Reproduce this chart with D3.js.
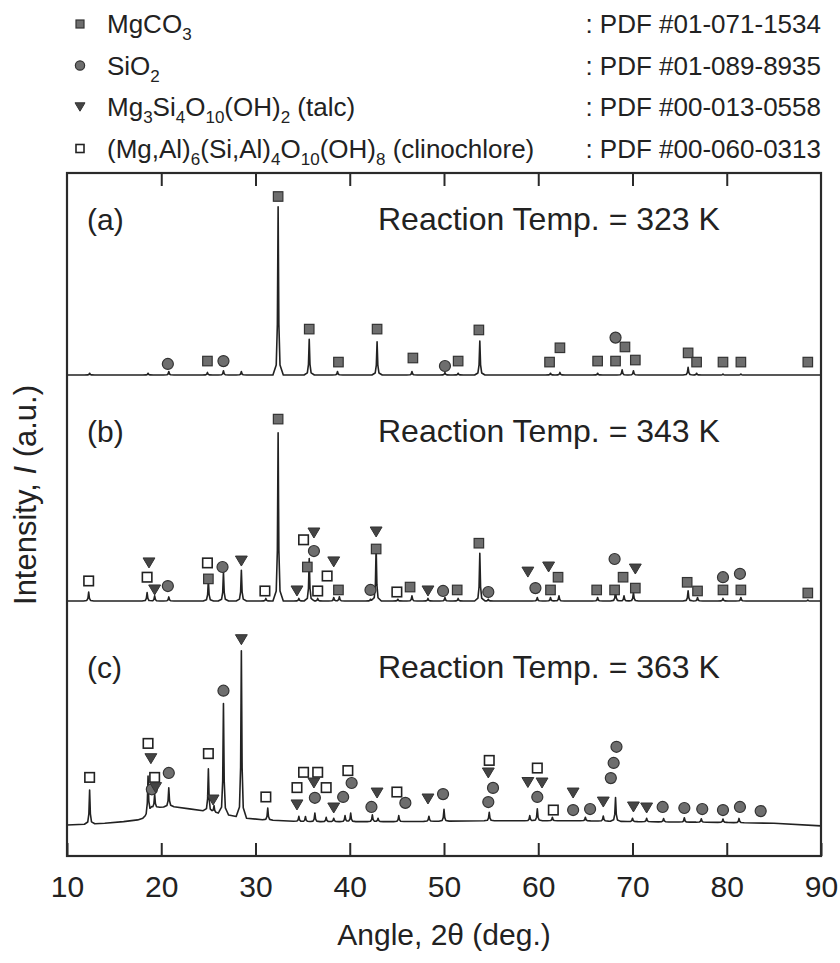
<!DOCTYPE html>
<html>
<head>
<meta charset="utf-8">
<script src="https://cdn.jsdelivr.net/npm/d3@7"></script>
<style>
  body { margin: 0; background: #fff; }
  svg { display: block; font-family: 'Liberation Sans', Arial, sans-serif; }
</style>
</head>
<body>
<script>
// ---- data ----
const angleTicks = [10, 20, 30, 40, 50, 60, 70, 80, 90]
const panelLabels = ['(a)', '(b)', '(c)']
const reactionTemps = ['323 K', '343 K', '363 K']

// legend: m = MgCO3, s = SiO2, t = talc, c = clinochlore
const phaseKeys = ['m', 's', 't', 'c']
const phaseNames = [
  [['MgCO'], ['3', 1]],
  [['SiO'], ['2', 1]],
  [['Mg'], ['3', 1], ['Si'], ['4', 1], ['O'], ['10', 1], ['(OH)'], ['2', 1], [' (talc)']],
  [['(Mg,Al)'], ['6', 1], ['(Si,Al)'], ['4', 1], ['O'], ['10', 1], ['(OH)'], ['8', 1], [' (clinochlore)']]
]
const pdfCodes = ['01-071-1534', '01-089-8935', '00-013-0558', '00-060-0313']

// background knots [angle, intensity]
const backgroundA = [[10, 0], [90, 0]]
const backgroundB = [[10, 0], [90, 0]]
const backgroundC = [[10, 0], [14, 1], [16, 2], [17.5, 3], [18.3, 4.5], [19, 10], [21, 11], [23, 9.5],
  [25, 8], [27, 6], [29, 4], [31, 3], [35, 2], [45, 2], [55, 2.5], [65, 2.5], [70, 2], [80, 1.5], [85, 1], [90, -0.5]]

// peaks [angle, height above background]
const peaksA = [[12.4, 1], [18.6, 1], [20.8, 2], [24.9, 1.5], [26.6, 2.5], [28.5, 2], [32.4, 99],
  [35.7, 21], [38.7, 2], [42.9, 19.5], [46.6, 2], [50.1, 1.5], [51.5, 1], [53.8, 20], [61.3, 1],
  [62.3, 1.5], [66.3, 1], [68.9, 3], [70.1, 2.5], [75.9, 4.5], [76.8, 1], [79.6, 0.5], [81.5, 0.5]]
const peaksB = [[12.3, 5.3], [18.5, 5], [19.3, 3], [20.8, 2.4], [25.0, 12.4], [26.6, 17], [28.5, 18],
  [31.1, 1.5], [32.4, 99], [34.6, 1.5], [35.7, 25], [36.6, 1.5], [38.3, 2], [38.9, 2.5], [42.2, 1],
  [42.8, 32], [45.1, 1], [46.6, 3], [48.3, 1.5], [50.1, 2], [51.5, 1.5], [53.8, 28], [54.7, 1],
  [59.9, 2], [61.3, 2], [62.2, 3], [66.3, 2], [68.2, 6], [69.1, 3], [70.1, 5], [75.9, 6], [76.9, 2],
  [79.6, 1.5], [81.5, 2], [88.6, 0.5]]
const peaksC = [[12.4, 20], [18.6, 22], [19.3, 8], [20.8, 11], [25.0, 25], [25.6, 4], [26.6, 65],
  [28.5, 98], [31.3, 7], [34.6, 3], [35.3, 3], [36.3, 5], [37.5, 2.5], [38.3, 2], [39.5, 3.5],
  [40.1, 5], [42.4, 4], [43.0, 2], [45.2, 3.5], [48.4, 3], [50.0, 7], [54.8, 5], [59.1, 3],
  [59.9, 7], [61.5, 2], [65.0, 2], [66.9, 3], [68.2, 14], [70.0, 2], [71.5, 2], [73.3, 2],
  [75.5, 2.5], [77.3, 2], [79.6, 2], [81.3, 2.5]]

// phase markers [phase, angle, level]
const markersA = [['m', 32.4, 105], ['m', 35.7, 27], ['m', 38.8, 7.6], ['m', 42.9, 27], ['m', 46.7, 10],
  ['s', 20.7, 6.5], ['m', 24.9, 8.2], ['s', 26.6, 8.2], ['s', 50.1, 5.3], ['m', 51.5, 8.2],
  ['m', 53.7, 26.5], ['m', 61.2, 7.6], ['m', 62.3, 16], ['m', 66.3, 8.2], ['s', 68.2, 22],
  ['m', 68.2, 8.2], ['m', 69.2, 16.5], ['m', 70.3, 8.8], ['m', 75.9, 13], ['m', 76.8, 7.6],
  ['m', 79.6, 7.6], ['m', 81.5, 7.6], ['m', 88.6, 7.6]]
const markersB = [['m', 32.4, 107], ['c', 12.3, 11.8], ['c', 18.5, 14], ['t', 18.7, 22.4], ['t', 19.3, 6.5],
  ['s', 20.7, 8.8], ['c', 24.9, 22.4], ['m', 25.0, 13], ['s', 26.5, 20], ['t', 28.5, 23.5],
  ['c', 31.0, 5.9], ['t', 34.4, 5.9], ['c', 35.1, 36], ['t', 36.2, 40], ['s', 36.2, 29.4],
  ['m', 35.5, 20], ['c', 36.6, 5.9], ['c', 37.6, 14.7], ['t', 38.3, 23], ['m', 38.8, 6.5],
  ['t', 42.8, 40.6], ['m', 42.8, 30.6], ['s', 42.2, 6.5], ['c', 45.0, 5.3], ['m', 46.4, 8.2],
  ['t', 48.3, 5.9], ['s', 49.9, 5.9], ['m', 51.4, 6.5], ['m', 53.7, 34], ['s', 54.7, 5.3],
  ['t', 58.9, 17], ['s', 59.7, 7.6], ['t', 61.1, 20], ['m', 62.1, 14], ['m', 61.3, 6.5],
  ['m', 66.2, 6.5], ['s', 68.1, 24.7], ['m', 68.1, 6.5], ['m', 69.0, 14], ['t', 70.3, 18.8],
  ['m', 70.3, 7.6], ['m', 75.8, 11], ['m', 76.9, 5.9], ['s', 79.6, 14], ['m', 79.6, 6.5],
  ['s', 81.4, 16], ['m', 81.5, 6.5], ['m', 88.6, 4.7]]
const markersC = [['c', 12.4, 28], ['c', 18.6, 48], ['t', 18.9, 39], ['c', 19.3, 28], ['s', 19.0, 21],
  ['t', 19.4, 22], ['s', 20.8, 30.6], ['c', 25.0, 42], ['t', 25.5, 14.7], ['s', 26.6, 79],
  ['t', 28.5, 109], ['c', 31.1, 16.5], ['c', 34.4, 22], ['t', 34.4, 11.8], ['c', 35.1, 31],
  ['c', 36.6, 31], ['t', 36.2, 24.7], ['s', 36.3, 16], ['c', 37.5, 22], ['t', 38.3, 10],
  ['s', 39.3, 16.5], ['s', 40.2, 24.7], ['c', 39.8, 32], ['s', 42.3, 10.6], ['t', 42.9, 18.8],
  ['c', 45.0, 19.4], ['s', 45.9, 13], ['t', 48.3, 15.3], ['s', 49.9, 18.2], ['c', 54.8, 38],
  ['t', 54.7, 30.6], ['s', 55.2, 21.8], ['s', 54.7, 13.5], ['t', 58.9, 25], ['t', 60.4, 24.7],
  ['c', 59.9, 33.5], ['s', 59.9, 16.5], ['c', 61.6, 8.8], ['t', 63.7, 18.8], ['s', 63.7, 8.8],
  ['s', 65.5, 9.4], ['t', 66.9, 13.5], ['s', 67.7, 27.6], ['s', 68.0, 36.5], ['s', 68.3, 46],
  ['t', 70.1, 10.6], ['t', 71.5, 10], ['s', 73.2, 10.6], ['s', 75.5, 10], ['s', 77.4, 9.4],
  ['s', 79.6, 8.8], ['s', 81.4, 10.6], ['s', 83.6, 8.2]]

// ---- layout ----
const W = 840, H = 963
const frame = { left: 67, right: 821, top: 173, bottom: 856 }
const baselines = [375, 601, 825]
const ink = '#222'

const svg = d3.select('body').append('svg').attr('width', W).attr('height', H)

const x = d3.scaleLinear().domain([10, 90]).range([frame.left, frame.right])

function drawMarker(g, key, cx, cy, s) {
  if (key === 'm') {
    g.append('rect').attr('x', cx - s / 2).attr('y', cy - s / 2).attr('width', s).attr('height', s)
      .attr('fill', '#6e6e6e').attr('stroke', '#333').attr('stroke-width', 1.2)
  } else if (key === 's') {
    g.append('circle').attr('cx', cx).attr('cy', cy).attr('r', s * 0.58)
      .attr('fill', '#6e6e6e').attr('stroke', '#333').attr('stroke-width', 1.2)
  } else if (key === 't') {
    const w = s * 1.25, h = s * 1.05
    g.append('path').attr('d', `M${cx - w / 2},${cy - h / 2}L${cx + w / 2},${cy - h / 2}L${cx},${cy + h / 2}Z`)
      .attr('fill', '#444').attr('stroke', '#333').attr('stroke-width', 1)
  } else {
    g.append('rect').attr('x', cx - s / 2).attr('y', cy - s / 2).attr('width', s).attr('height', s)
      .attr('fill', '#fff').attr('stroke', ink).attr('stroke-width', 1.6)
  }
}

// ---- legend ----
const legend = svg.append('g')
phaseKeys.forEach((key, i) => {
  const cy = 24 + i * 41.5
  drawMarker(legend, key, 80, cy, 8)
  const t = legend.append('text').attr('x', 107).attr('y', cy + 9)
    .attr('font-size', 26).attr('fill', ink)
  let sub = false
  phaseNames[i].forEach(([str, isSub]) => {
    const ts = t.append('tspan').text(str)
    if (isSub && !sub) ts.attr('dy', 7).attr('font-size', 17)
    else if (isSub) ts.attr('font-size', 17)
    else if (sub) ts.attr('dy', -7)
    sub = !!isSub
  })
  legend.append('text').attr('x', frame.right).attr('y', cy + 9).attr('text-anchor', 'end')
    .attr('font-size', 26).attr('fill', ink).text(': PDF #' + pdfCodes[i])
})

// ---- traces ----
const profileShape = d3.scaleLinear()
  .domain([-0.55, -0.2, -0.08, 0, 0.08, 0.2, 0.55])
  .range([0, 0.06, 0.3, 1, 0.3, 0.06, 0])
  .clamp(true)

function tracePoints(bg, peaks) {
  const bgScale = d3.scaleLinear().domain(bg.map(d => d[0])).range(bg.map(d => d[1]))
  const xs = new Set(bg.map(d => d[0]))
  peaks.forEach(([a]) => profileShape.domain().forEach(o => xs.add(+(a + o).toFixed(3))))
  return Array.from(xs).filter(a => a >= 10 && a <= 90).sort((p, q) => p - q)
    .map(a => [a, bgScale(a) + d3.sum(peaks, ([pa, h]) => h * profileShape(a - pa))])
}

const series = [
  { bg: backgroundA, peaks: peaksA, markers: markersA },
  { bg: backgroundB, peaks: peaksB, markers: markersB },
  { bg: backgroundC, peaks: peaksC, markers: markersC }
]

series.forEach((s, i) => {
  const y = d3.scaleLinear().domain([0, 100]).range([baselines[i], baselines[i] - 170])
  const g = svg.append('g')
  const line = d3.line().x(d => x(d[0])).y(d => y(d[1]))
  g.append('path').datum(tracePoints(s.bg, s.peaks)).attr('d', line)
    .attr('fill', 'none').attr('stroke', ink).attr('stroke-width', 1.6).attr('stroke-linejoin', 'round')
  s.markers.forEach(([k, a, lv]) => drawMarker(g, k, x(a), y(lv), 9.5))
  const textY = [230, 442, 678][i]
  g.append('text').attr('x', 87).attr('y', textY).attr('font-size', 30).attr('fill', ink).text(panelLabels[i])
  g.append('text').attr('x', 378).attr('y', textY).attr('font-size', 32).attr('fill', ink)
    .text('Reaction Temp. = ' + reactionTemps[i])
})

// ---- frame and axes ----
svg.append('rect').attr('x', frame.left).attr('y', frame.top)
  .attr('width', frame.right - frame.left).attr('height', frame.bottom - frame.top)
  .attr('fill', 'none').attr('stroke', '#2a2a2a').attr('stroke-width', 2.2)

const inner = angleTicks.slice(1, -1)
const topAxis = svg.append('g').attr('transform', `translate(0,${frame.top})`)
  .call(d3.axisTop(x).tickValues(inner).tickSize(-13).tickFormat(''))
const bottomAxis = svg.append('g').attr('transform', `translate(0,${frame.bottom})`)
  .call(d3.axisBottom(x).tickValues(angleTicks).tickSize(-13).tickPadding(20))
;[topAxis, bottomAxis].forEach(a => {
  a.select('.domain').remove()
  a.selectAll('line').attr('stroke', '#2a2a2a').attr('stroke-width', 2)
})
bottomAxis.selectAll('text').attr('font-size', 30).attr('fill', ink)
  .attr('font-family', "'Liberation Sans', Arial, sans-serif")

svg.append('text').attr('x', (frame.left + frame.right) / 2).attr('y', 945)
  .attr('text-anchor', 'middle').attr('font-size', 30).attr('fill', ink).text('Angle, 2θ (deg.)')

const yl = svg.append('text').attr('transform', 'translate(36,495) rotate(-90)')
  .attr('text-anchor', 'middle').attr('font-size', 31).attr('fill', ink)
yl.append('tspan').text('Intensity, ')
yl.append('tspan').attr('font-style', 'italic').text('I')
yl.append('tspan').text(' (a.u.)')
</script>
</body>
</html>
